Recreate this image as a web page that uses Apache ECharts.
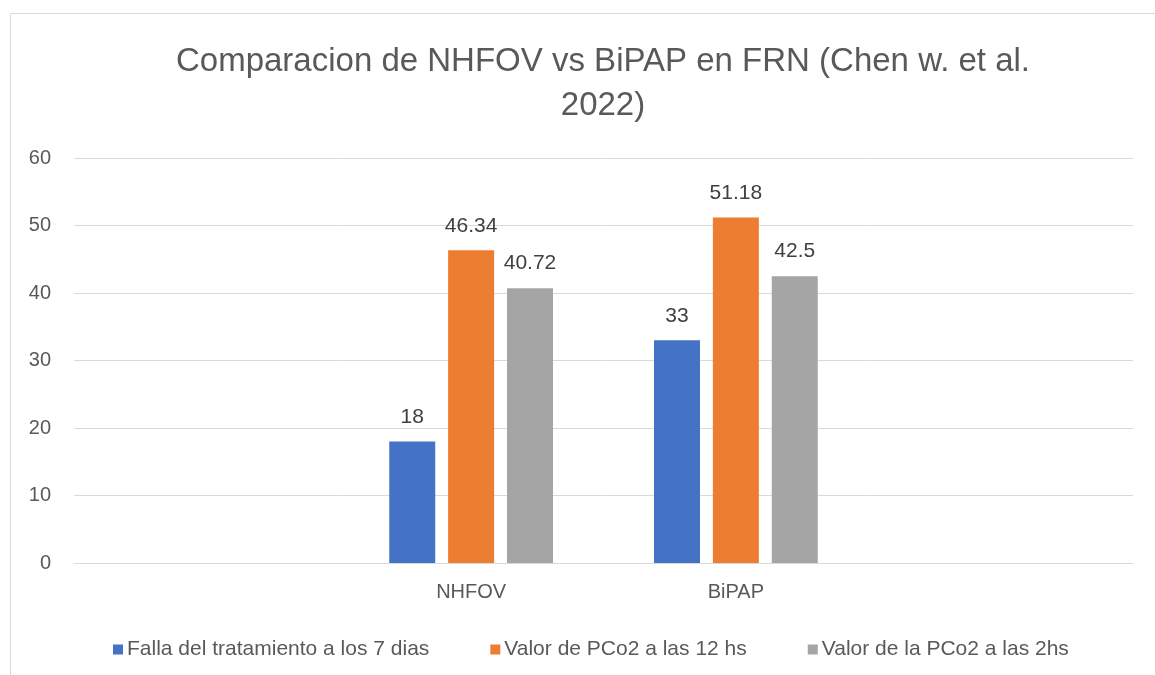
<!DOCTYPE html>
<html>
<head>
<meta charset="utf-8">
<script src="https://cdn.jsdelivr.net/npm/echarts@6/dist/echarts.min.js"></script>
<style>html,body{margin:0;padding:0;background:#fff}#c{width:1155px;height:675px}</style>
</head>
<body>
<div id="c"></div>
<script>
const titleText = 'Comparacion de NHFOV vs BiPAP en FRN (Chen w. et al.\n2022)';
const categories = ['', 'NHFOV', 'BiPAP', ''];
const seriesNames = ['Falla del tratamiento a los 7 dias', 'Valor de PCo2 a las 12 hs', 'Valor de la PCo2 a las 2hs'];
const falla = [null, 18, 33, null];
const pco2_12 = [null, 46.34, 51.18, null];
const pco2_2 = [null, 40.72, 42.5, null];
const colors = ['#4472C4', '#ED7D31', '#A5A5A5'];
const yTicks = { min: 0, max: 60, interval: 10 };

const font = '"Liberation Sans", Arial, sans-serif';
const chart = echarts.init(document.getElementById('c'), null, { renderer: 'canvas' });
const data = [falla, pco2_12, pco2_2];
chart.setOption({
  animation: false,
  backgroundColor: '#fff',
  color: colors,
  graphic: [{
    type: 'rect', shape: { x: 10.5, y: 13.5, width: 1200, height: 700 },
    style: { fill: 'none', stroke: '#d9d9d9', lineWidth: 1 }, silent: true
  }],
  title: {
    text: titleText, left: 598, top: 35, textAlign: 'center',
    textStyle: { fontFamily: font, fontSize: 33, fontWeight: 'normal', color: '#595959', lineHeight: 44 }
  },
  legend: {
    data: seriesNames, bottom: 10, left: 108, itemWidth: 10, itemHeight: 10, itemGap: 61,
    icon: 'rect',
    textStyle: { fontFamily: font, fontSize: 21, color: '#595959', padding: [0,0,0,-1] }
  },
  grid: { left: 74, right: 22, top: 158, bottom: 112, containLabel: false },
  xAxis: {
    type: 'category', data: categories,
    axisLine: { lineStyle: { color: '#d9d9d9' } }, axisTick: { show: false },
    axisLabel: { fontFamily: font, fontSize: 20, color: '#595959', margin: 19 }
  },
  yAxis: {
    type: 'value', min: yTicks.min, max: yTicks.max, interval: yTicks.interval,
    axisLine: { show: false }, axisTick: { show: false },
    splitLine: { lineStyle: { color: '#d9d9d9', width: 1 } },
    axisLabel: { fontFamily: font, fontSize: 20, color: '#595959', margin: 23 }
  },
  series: seriesNames.map((n, i) => ({
    name: n, type: 'bar', data: data[i], barWidth: 46, barGap: '28%',
    label: { show: true, position: 'top', distance: 14, fontFamily: font, fontSize: 21, color: '#404040' }
  }))
});
</script>
</body>
</html>
